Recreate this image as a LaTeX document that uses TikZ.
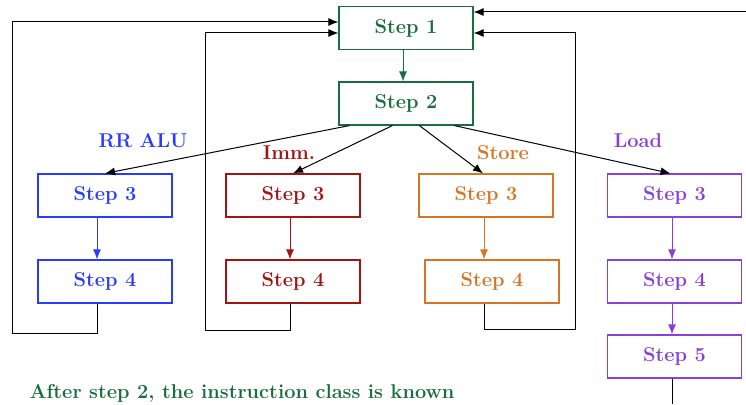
\documentclass[tikz,border=0pt]{standalone}
\usepackage{fontspec}
\usetikzlibrary{arrows.meta}
\definecolor{cgreen}{RGB}{24,110,62}
\definecolor{cblue}{RGB}{40,60,255}
\definecolor{cred}{RGB}{160,20,20}
\definecolor{corange}{RGB}{214,118,36}
\definecolor{cpurple}{RGB}{136,64,214}
\begin{document}
\begin{tikzpicture}[x=1pt,y=-1pt,
  box/.style={draw, line width=1.2pt, minimum width=134pt, minimum height=43pt,
    inner sep=0pt, font=\fontsize{20}{24}\selectfont\bfseries},
  lbl/.style={inner sep=0pt, font=\fontsize{20}{24}\selectfont\bfseries},
  arr/.style={-{Latex[length=10pt,width=8pt]}, line width=1pt},
  loop/.style={arr, draw=black}]
\useasboundingbox (0,0) rectangle (746,404);

% common steps
\node[box, draw=cgreen, text=cgreen] (s1) at (406,28) {Step 1};
\node[box, draw=cgreen, text=cgreen] (s2) at (406,103.5) {Step 2};

% RR ALU
\node[box, draw=cblue, text=cblue] (a3) at (105,195.5) {Step 3};
\node[box, draw=cblue, text=cblue] (a4) at (105,281.5) {Step 4};
% Immediate
\node[box, draw=cred, text=cred] (b3) at (293,195.5) {Step 3};
\node[box, draw=cred, text=cred] (b4) at (293,281.5) {Step 4};
% Store
\node[box, draw=corange, text=corange] (c3) at (486,195.5) {Step 3};
\node[box, draw=corange, text=corange] (c4) at (492,281.5) {Step 4};
% Load
\node[box, draw=cpurple, text=cpurple] (d3) at (674.5,195.5) {Step 3};
\node[box, draw=cpurple, text=cpurple] (d4) at (674.5,281.5) {Step 4};
\node[box, draw=cpurple, text=cpurple] (d5) at (674.5,356.5) {Step 5};

% class labels
\node[lbl, text=cblue] (lrr) at (143,141) {RR ALU};
\node[lbl, text=cred] (limm) at (289,153) {Imm.};
\node[lbl, text=corange] (lst) at (503,153) {Store};
\node[lbl, text=cpurple] (lld) at (638,141) {Load};

\node[lbl, text=cgreen] (note) at (242,393) {After step 2, the instruction class is known};

% vertical flow
\draw[arr, cgreen] ([xshift=-3pt]s1.south) -- ([xshift=-3pt]s2.north);
\draw[arr, cblue] ([xshift=-8pt]a3.south) -- ([xshift=-8pt]a4.north);
\draw[arr, cred] ([xshift=-3pt]b3.south) -- ([xshift=-3pt]b4.north);
\draw[arr, corange] ([xshift=-2pt]c3.south) -- ([xshift=-8pt]c4.north);
\draw[arr, cpurple] ([xshift=-2.5pt]d3.south) -- ([xshift=-2.5pt]d4.north);
\draw[arr, cpurple] ([xshift=-2.5pt]d4.south) -- ([xshift=-2.5pt]d5.north);

% decode fan-out
\draw[arr] ([xshift=11pt]s2.south west) -- (a3.north);
\draw[arr] ([xshift=54pt]s2.south west) -- (b3.north);
\draw[arr] ([xshift=81pt]s2.south west) -- ([xshift=-3pt]c3.north);
\draw[arr] ([xshift=116pt]s2.south west) -- ([xshift=-4pt]d3.north);

% return paths to Step 1
\draw[loop] ([xshift=-8pt]a4.south) |- (12,333) |- ([yshift=6pt]s1.west);
\draw[loop] ([xshift=-3pt]b4.south) |- (205,330) |- ([yshift=-5pt]s1.west);
\draw[loop] ([xshift=-8pt]c4.south) |- (575,329) |- ([yshift=-5pt]s1.east);
\coordinate (ldout) at (672,404);
\coordinate (ldin) at (746,12);
\draw[line width=1pt] ([xshift=-2.5pt]d5.south) -- (ldout);
\draw[arr] (ldin) -- ([yshift=16pt]s1.east);
\end{tikzpicture}
\end{document}
